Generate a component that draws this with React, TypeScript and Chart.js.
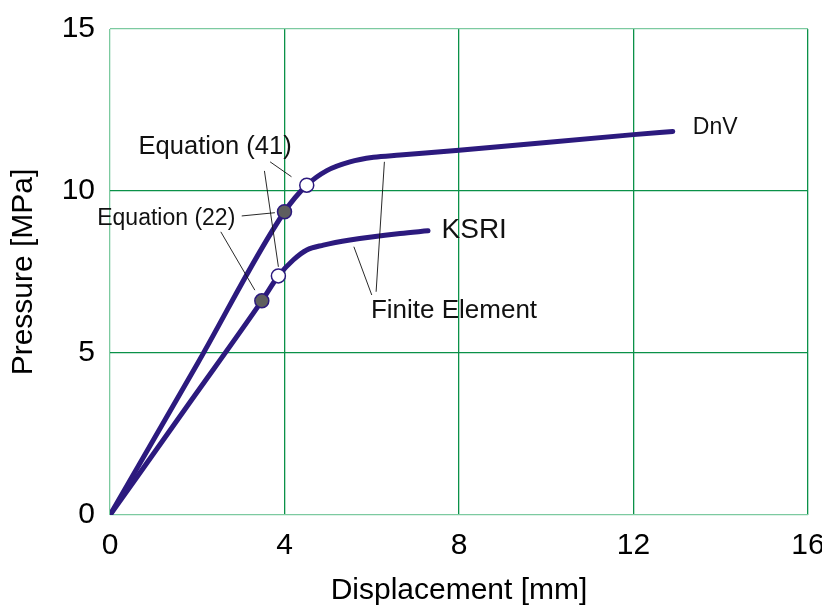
import React, { useEffect, useRef } from "react";
import { Chart, registerables } from "chart.js";

Chart.register(...registerables);

// Data (displacement mm, pressure MPa)
const dnvX = [0, 2.0, 4.0, 4.51, 4.97, 5.5, 6.04, 6.65, 8, 12, 12.9];
const dnvY = [0, 4.66, 9.36, 10.18, 10.63, 10.9, 11.04, 11.11, 11.26, 11.74, 11.84];
const ksriX = [0, 1.8, 3.48, 3.86, 4.2, 4.51, 4.89, 5.5, 6.65, 7.29];
const ksriY = [0, 3.42, 6.61, 7.38, 7.87, 8.18, 8.33, 8.49, 8.69, 8.77];

// Equation (22) points (filled) and Equation (41) points (open)
const eq22X = [4.0, 3.48];
const eq22Y = [9.36, 6.61];
const eq41X = [4.51, 3.86];
const eq41Y = [10.18, 7.38];

const xTicks = [0, 4, 8, 12, 16];
const yTicks = [0, 5, 10, 15];

// Annotation texts (data coordinates)
const labelTexts = ["Equation (41)", "Equation (22)", "DnV", "KSRI", "Finite Element"];
const labelX = [2.41, 1.29, 13.36, 7.6, 5.98];
const labelY = [11.37, 9.16, 11.94, 8.8, 6.31];
const labelAlign: CanvasTextAlign[] = ["center", "center", "left", "left", "left"];
const labelSize = [25.5, 23, 23, 28, 26];

// Leader lines [x1, y1, x2, y2] in data units
const leaderLines = [
  [3.67, 10.9, 4.16, 10.44],
  [3.54, 10.62, 3.86, 7.66],
  [3.02, 9.23, 3.78, 9.33],
  [2.54, 8.74, 3.32, 6.94],
  [6.29, 10.9, 6.1, 6.89],
  [5.59, 8.28, 6.0, 6.79],
];

const FONT = "'Liberation Sans', Arial, Helvetica, sans-serif";
const LINE = "#2c1a7e";
const GRID = "#0a9148";
const GRID_LIGHT = "#7ccaa0";

const toPts = (xs: number[], ys: number[]) => xs.map((x, i) => ({ x, y: ys[i] }));

const annotations = {
  id: "annotations",
  afterDatasetsDraw(chart: any) {
    const { ctx, scales } = chart;
    const xs = scales.x;
    const ys = scales.y;
    ctx.save();
    ctx.strokeStyle = "#111";
    ctx.lineWidth = 0.9;
    leaderLines.forEach(([x1, y1, x2, y2]) => {
      ctx.beginPath();
      ctx.moveTo(xs.getPixelForValue(x1), ys.getPixelForValue(y1));
      ctx.lineTo(xs.getPixelForValue(x2), ys.getPixelForValue(y2));
      ctx.stroke();
    });
    ctx.fillStyle = "#111";
    ctx.textBaseline = "middle";
    labelTexts.forEach((t, i) => {
      ctx.font = `${labelSize[i]}px ${FONT}`;
      ctx.textAlign = labelAlign[i];
      ctx.fillText(t, xs.getPixelForValue(labelX[i]), ys.getPixelForValue(labelY[i]));
    });
    ctx.restore();
  },
};

export default function App() {
  const ref = useRef<HTMLCanvasElement | null>(null);
  useEffect(() => {
    if (!ref.current) return;
    const lineDs = (label: string, xs: number[], ys: number[]) => ({
      label,
      data: toPts(xs, ys),
      showLine: true,
      borderColor: LINE,
      borderWidth: 5,
      pointRadius: 0,
      cubicInterpolationMode: "monotone",
      borderCapStyle: "round",
      borderJoinStyle: "round",
      order: 2,
    });
    const markerDs = (label: string, xs: number[], ys: number[], fill: string) => ({
      label,
      data: toPts(xs, ys),
      showLine: false,
      pointRadius: 7,
      pointBackgroundColor: fill,
      pointBorderColor: LINE,
      pointBorderWidth: 1.5,
      order: 1,
    });
    const chart = new Chart(ref.current, {
      type: "scatter",
      data: {
        datasets: [
          lineDs("DnV", dnvX, dnvY),
          lineDs("KSRI", ksriX, ksriY),
          markerDs("Equation (22)", eq22X, eq22Y, "#5e5e5e"),
          markerDs("Equation (41)", eq41X, eq41Y, "#ffffff"),
        ],
      } as any,
      options: {
        responsive: false,
        animation: false,
        layout: { padding: { top: 29, right: 14, left: 0, bottom: 0 } },
        plugins: { legend: { display: false }, tooltip: { enabled: false } },
        scales: {
          x: {
            type: "linear",
            min: 0,
            max: 16,
            afterBuildTicks: (s: any) => {
              s.ticks = xTicks.map((v) => ({ value: v }));
            },
            afterFit: (s: any) => {
              s.height = 609 - 515;
              s.paddingLeft = 0;
              s.paddingRight = 0;
            },
            border: { display: false },
            grid: {
              drawTicks: false,
              lineWidth: 1.3,
              color: (c: any) => (c.tick && c.tick.value === 0 ? GRID_LIGHT : GRID),
            },
            ticks: {
              padding: 13,
              color: "#000",
              font: { family: FONT, size: 30 },
              maxRotation: 0,
            },
            title: {
              display: true,
              text: "Displacement [mm]",
              color: "#000",
              font: { family: FONT, size: 30 },
              padding: { top: 0, bottom: 0 },
            },
          },
          y: {
            type: "linear",
            min: 0,
            max: 15,
            afterBuildTicks: (s: any) => {
              s.ticks = yTicks.map((v) => ({ value: v }));
            },
            afterFit: (s: any) => {
              s.width = 110;
              s.paddingTop = 0;
              s.paddingBottom = 0;
            },
            border: { display: false },
            grid: {
              drawTicks: false,
              lineWidth: 1.3,
              color: (c: any) =>
                c.tick && (c.tick.value === 0 || c.tick.value === 15) ? GRID_LIGHT : GRID,
            },
            ticks: {
              padding: 15,
              color: "#000",
              font: { family: FONT, size: 30 },
            },
            title: {
              display: true,
              text: "Pressure [MPa]",
              color: "#000",
              font: { family: FONT, size: 30 },
              padding: { top: 6, bottom: 0 },
            },
          },
        },
      },
      plugins: [annotations],
    } as any);
    return () => chart.destroy();
  }, []);
  return (
    <div style={{ position: "absolute", left: 0, top: 0, width: 822, height: 609, background: "#fff" }}>
      <canvas ref={ref} width={822} height={609} style={{ display: "block" }} />
    </div>
  );
}
